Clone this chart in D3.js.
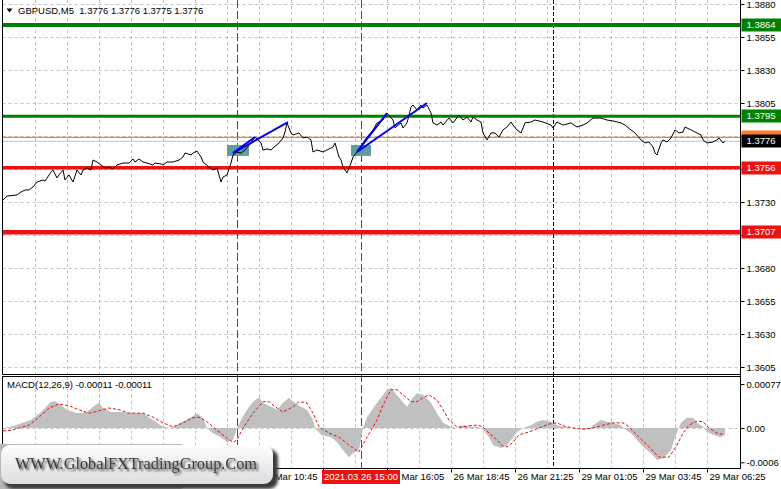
<!DOCTYPE html>
<html><head><meta charset="utf-8">
<script src="https://cdn.jsdelivr.net/npm/d3@7"></script>
<style>html,body{margin:0;padding:0;background:#fff;overflow:hidden}svg{display:block}</style>
</head><body>
<svg id="c" width="781" height="489"></svg>
<script>
// ---------------- DATA ----------------
const symbolTitle = "GBPUSD,M5  1.3776 1.3776 1.3775 1.3776";
const macdTitle = "MACD(12,26,9) -0.00011 -0.00011";

// close prices (bar index, price)
const priceBars = [0,2,7,9,11,13,15,17,20,21,24,25,27,28,30,31,33,35,37,39,40,42,44,45,47,49,51,53,55,57,60,63,65,66,68,70,72,75,76,79,80,82,85,88,90,91,94,95,97,99,100,103,105,107,109,110,112,114,115,117,119,121,124,126,129,130,132,134,135,138,140,141,142,144,145,148,150,152,154,155,157,160,162,165,166,168,169,170,172,174,175,177,179,180,182,185,187,190,192,195,196,199,200,202,204,205,207,209,210,212,214,215,217,219,220,223,225,228,230,232,234,235,237,239,240,242,244,246,248,250,252,254,255,257,259,261,264,266,270,274,275,277,280,284,287,290,292,295,299,302,305,309,311,314,316,319,321,323,325,326,327,329,330,332,334,336,338,340,341,344,346,349,350,352,355,357,358,360,361];
const priceClose = [1.37315,1.37345,1.37353,1.37376,1.37391,1.37391,1.37414,1.37451,1.37467,1.37459,1.37527,1.37542,1.37482,1.37505,1.37542,1.37467,1.37505,1.37451,1.37542,1.37505,1.37542,1.37558,1.37542,1.37618,1.37603,1.37580,1.37558,1.37565,1.37550,1.37580,1.37595,1.37595,1.37626,1.37603,1.37626,1.37603,1.37595,1.37580,1.37595,1.37588,1.37580,1.37603,1.37603,1.37618,1.37641,1.37671,1.37656,1.37671,1.37686,1.37641,1.37603,1.37565,1.37542,1.37558,1.37451,1.37489,1.37505,1.37595,1.37656,1.37679,1.37671,1.37694,1.37747,1.37792,1.37747,1.37694,1.37702,1.37694,1.37709,1.37747,1.37785,1.37830,1.37899,1.37823,1.37808,1.37823,1.37785,1.37792,1.37770,1.37679,1.37694,1.37679,1.37694,1.37717,1.37747,1.37641,1.37618,1.37565,1.37520,1.37595,1.37641,1.37679,1.37709,1.37747,1.37792,1.37846,1.37899,1.37921,1.37974,1.37921,1.37861,1.37899,1.37861,1.37899,1.38020,1.38035,1.37997,1.38035,1.38012,1.38035,1.37974,1.37899,1.37883,1.37906,1.37883,1.37936,1.37899,1.37959,1.37921,1.37944,1.37906,1.37944,1.37921,1.37906,1.37823,1.37770,1.37823,1.37823,1.37792,1.37846,1.37868,1.37906,1.37883,1.37846,1.37823,1.37899,1.37906,1.37921,1.37906,1.37883,1.37861,1.37906,1.37883,1.37899,1.37868,1.37883,1.37899,1.37936,1.37936,1.37921,1.37914,1.37899,1.37883,1.37846,1.37823,1.37770,1.37747,1.37755,1.37717,1.37671,1.37656,1.37747,1.37770,1.37755,1.37785,1.37846,1.37823,1.37830,1.37868,1.37846,1.37830,1.37808,1.37770,1.37747,1.37755,1.37770,1.37785,1.37747,1.37760];

// MACD histogram (bar index, value)
const macdBars = [0,4,14,19,24,26,29,32,37,42,45,48,50,54,59,65,70,75,80,84,89,94,97,100,102,105,109,112,115,117,119,122,125,128,130,134,137,140,143,145,149,152,155,156,159,164,167,170,173,175,178,180,182,187,192,194,199,202,205,207,210,214,217,220,224,227,230,234,237,240,243,245,249,252,255,257,260,264,267,270,274,277,280,285,289,293,295,299,302,305,309,310,314,317,320,324,327,330,334,336,339,342,345,347,350,352,355,359,361];
const macdHist = [0,0.00002,0.00014,0.00028,0.00046,0.00047,0.00040,0.00032,0.00026,0.00028,0.00037,0.00044,0.00035,0.00028,0.00028,0.00026,0.00026,0.00014,0.00002,0,0.00009,0.00019,0.00026,0.00018,0,-0.00009,-0.00016,-0.00025,-0.00021,0,0.00014,0.00032,0.00046,0.00054,0.00044,0.00037,0.00032,0.00044,0.00053,0.00047,0.00037,0.00032,0.00014,0,-0.00012,-0.00016,-0.00025,-0.00039,-0.00051,-0.00044,-0.00039,0,0.00019,0.00044,0.00067,0.00070,0.00049,0.00037,0.00054,0.00061,0.00058,0.00044,0.00026,0.00009,0.00002,0,0.00005,0.00002,0.00002,-0.00002,-0.00016,-0.00030,-0.00035,-0.00030,-0.00016,-0.00007,0,0.00005,0.00011,0.00014,0.00011,0.00005,0.00002,0,-0.00002,-0.00002,0.00005,0.00014,0.00011,0.00009,0.00005,0,-0.00009,-0.00021,-0.00033,-0.00044,-0.00056,-0.00053,-0.00039,-0.00016,0.00009,0.00018,0.00018,0.00009,0.00002,-0.00007,-0.00012,-0.00016,-0.00011];

// MACD signal line (bar index, value)
const signalBars = [0,4,8,13,18,23,28,33,38,43,48,53,58,63,70,75,80,85,90,95,98,102,107,112,115,117,120,125,130,133,137,140,145,148,152,155,158,163,168,173,178,182,187,190,194,197,200,204,207,210,213,217,220,223,227,230,233,237,240,243,247,250,252,255,258,263,268,273,277,280,285,290,295,300,305,310,313,318,323,328,333,337,340,343,347,350,353,357,361];
const signalVals = [-0.00005,-0.00004,0,0.00005,0.00019,0.00035,0.00042,0.00039,0.00032,0.00026,0.00030,0.00035,0.00032,0.00026,0.00026,0.00019,0.00009,0.00002,0.00009,0.00018,0.00019,0.00011,-0.00004,-0.00018,-0.00025,-0.00021,0,0.00026,0.00046,0.00046,0.00035,0.00028,0.00037,0.00046,0.00044,0.00026,0.00002,-0.00009,-0.00016,-0.00030,-0.00042,-0.00016,0.00014,0.00040,0.00067,0.00067,0.00058,0.00046,0.00046,0.00053,0.00058,0.00049,0.00032,0.00014,0.00002,0.00002,0.00004,0.00005,0.00002,-0.00009,-0.00021,-0.00032,-0.00033,-0.00025,-0.00012,-0.00007,0,0.00007,0.00009,0.00004,0,-0.00002,0,0.00005,0.00009,0.00009,0.00002,-0.00016,-0.00033,-0.00051,-0.00051,-0.00030,-0.00009,0.00005,0.00012,0.00011,0,-0.00009,-0.00012];

// price axis (grid levels; labels hidden behind the level boxes are left blank)
const priceTicks = [1.3880,1.3855,1.3830,1.3805,1.3780,1.3755,1.3730,1.3705,1.3680,1.3655,1.3630,1.3605];
const priceTickLabels = ["1.3880","1.3855","1.3830","1.3805","","","1.3730","","1.3680","1.3655","1.3630","1.3605"];
const macdTicks = [0.00077,0,-0.0006];
const macdTickLabels = ["0.00077","0.00","-0.0006"];

// horizontal levels
const levelPrices = [1.3864,1.3795,1.3756,1.3707];
const levelLabels = ["1.3864","1.3795","1.3756","1.3707"];
const orangePrice = 1.3779, orangeLabel = "1.3779";
const bidPrice = 1.3776, bidLabel = "1.3776";

// time axis (labels hidden under the watermark / marker box are left blank)
const timeTickBars = [0,32,64,96,128,160,192,224,256,288,320,352];
const timeTickLabels = ["","","","","26 Mar 10:45","","26 Mar 16:05","26 Mar 18:45","26 Mar 21:25","29 Mar 01:05","29 Mar 03:45","29 Mar 06:25"];
const markerBars = [117,179];
const markerTimeBar = 179, markerTimeLabel = "2021.03.26 15:00";
const separatorBars = [275];

// drawn objects
const zoneStart = [112,174], zoneEnd = [123,184];
const zoneTop = 1.37732, zoneBottom = 1.37649;
const trendStartBar = [115,115,177,177];
const trendStartPrice = [1.37671,1.37671,1.37679,1.37679];
const trendEndBar = [126,142.5,192,212];
const trendEndPrice = [1.37792,1.37906,1.37974,1.38050];

const watermark = "WWW.GlobalFXTradingGroup.Com";

// ---------------- LAYOUT ----------------
const W = 781, H = 489;
const L = 2.5, R = 740.5, mainTop = 0, mainBot = 374.5, mTop = 376.5, mBot = 468.5;
const F = "'Liberation Sans', Arial, sans-serif";
const FS = 9.5;
const levelColors = ["#008000","#008000","#ee1111","#ee1111"];
const levelWidths = [4,3,3.5,4.5];

const svg = d3.select("#c");
const x = d3.scaleLinear().domain([0,368.5]).range([3,740]);
const y = d3.scaleLinear().domain([1.3605,1.3880]).range([367,4]);
const ym = d3.scaleLinear().domain([-0.0006,0.00077]).range([462.3,384]);

const defs = svg.append("defs");
defs.append("clipPath").attr("id","mainClip").append("rect").attr("x",L).attr("y",mainTop).attr("width",R-L).attr("height",mainBot-mainTop);
defs.append("clipPath").attr("id","macdClip").append("rect").attr("x",L).attr("y",mTop).attr("width",R-L).attr("height",mBot-mTop);

const gridColor = "#c0c0c0";
const vg = d3.range(16,368,16);
[[mainTop,mainBot],[mTop,mBot]].forEach(([a,b])=>{
  svg.append("g").selectAll("line").data(vg).join("line")
    .attr("x1",d=>Math.round(x(d))+0.5).attr("x2",d=>Math.round(x(d))+0.5)
    .attr("y1",a).attr("y2",b).attr("stroke",gridColor).attr("stroke-dasharray","3,3");
});
svg.append("g").selectAll("line").data(priceTicks).join("line")
  .attr("x1",L).attr("x2",R).attr("y1",d=>Math.round(y(d))+0.5).attr("y2",d=>Math.round(y(d))+0.5)
  .attr("stroke",gridColor).attr("stroke-dasharray","3,3");
svg.append("line").attr("x1",L).attr("x2",R).attr("y1",Math.round(ym(0))+0.5).attr("y2",Math.round(ym(0))+0.5)
  .attr("stroke",gridColor).attr("stroke-dasharray","3,3");

const vlines = svg.append("g");
separatorBars.forEach(b=>{
  vlines.append("line").attr("x1",Math.round(x(b))+0.5).attr("x2",Math.round(x(b))+0.5).attr("y1",mainTop).attr("y2",mBot)
    .attr("stroke","#000").attr("stroke-dasharray","4,2");
});
markerBars.forEach(b=>{
  vlines.append("line").attr("x1",Math.round(x(b))+0.5).attr("x2",Math.round(x(b))+0.5).attr("y1",mainTop).attr("y2",mBot)
    .attr("stroke","#e01010").attr("stroke-dasharray","8,3");
});

const main = svg.append("g").attr("clip-path","url(#mainClip)");
main.selectAll("rect.zone").data(zoneStart).join("rect").attr("class","zone")
  .attr("x",(d,i)=>x(d)).attr("width",(d,i)=>x(zoneEnd[i])-x(d))
  .attr("y",y(zoneTop)).attr("height",y(zoneBottom)-y(zoneTop)).attr("fill","#5f9ea0");

main.append("line").attr("x1",L).attr("x2",R).attr("y1",y(orangePrice)).attr("y2",y(orangePrice)).attr("stroke","#ff7a2a").attr("stroke-width",1.2);
main.append("line").attr("x1",L).attr("x2",R).attr("y1",y(bidPrice)).attr("y2",y(bidPrice)).attr("stroke","#c0c0c0").attr("stroke-width",1);
main.selectAll("line.level").data(levelPrices).join("line").attr("class","level")
  .attr("x1",L).attr("x2",R).attr("y1",d=>y(d)).attr("y2",d=>y(d))
  .attr("stroke",(d,i)=>levelColors[i]).attr("stroke-width",(d,i)=>levelWidths[i]);

const pdata = priceBars.map((b,i)=>[b,priceClose[i]]);
main.append("path").datum(pdata)
  .attr("d",d3.line().x(d=>x(d[0])).y(d=>y(d[1])))
  .attr("fill","none").attr("stroke","#000").attr("stroke-width",1);

main.selectAll("line.trend").data(trendStartBar).join("line").attr("class","trend")
  .attr("x1",d=>x(d)).attr("y1",(d,i)=>y(trendStartPrice[i]))
  .attr("x2",(d,i)=>x(trendEndBar[i])).attr("y2",(d,i)=>y(trendEndPrice[i]))
  .attr("stroke","#0000ee").attr("stroke-width",2);

const mg = svg.append("g").attr("clip-path","url(#macdClip)");
const hdata = macdBars.map((b,i)=>[b,macdHist[i]]);
mg.append("path").datum(hdata)
  .attr("d",d3.area().x(d=>x(d[0])).y0(ym(0)).y1(d=>ym(d[1])))
  .attr("fill","#c0c0c0");
const sdata = signalBars.map((b,i)=>[b,signalVals[i]]);
mg.append("path").datum(sdata)
  .attr("d",d3.line().x(d=>x(d[0])).y(d=>ym(d[1])))
  .attr("fill","none").attr("stroke","#dd1111").attr("stroke-width",1).attr("stroke-dasharray","3,2");

svg.append("line").attr("x1",L).attr("x2",L).attr("y1",0).attr("y2",mainBot).attr("stroke","#000");
svg.append("line").attr("x1",L).attr("x2",R).attr("y1",mainBot).attr("y2",mainBot).attr("stroke","#000");
svg.append("rect").attr("x",L).attr("y",mTop).attr("width",R-L).attr("height",mBot-mTop).attr("fill","none").attr("stroke","#000");
svg.append("line").attr("x1",R).attr("x2",R).attr("y1",0).attr("y2",mBot).attr("stroke","#000");

const ya = d3.axisRight(y).tickValues(priceTicks).tickFormat((d,i)=>priceTickLabels[i]).tickSize(4).tickPadding(2);
const yag = svg.append("g").attr("transform",`translate(${R},0)`).call(ya);
yag.select(".domain").remove();
yag.selectAll("text").attr("font-family",F).attr("font-size",FS).attr("fill","#000");
yag.selectAll("line").attr("stroke","#000");

const yma = d3.axisRight(ym).tickValues(macdTicks).tickFormat((d,i)=>macdTickLabels[i]).tickSize(4).tickPadding(2);
const ymag = svg.append("g").attr("transform",`translate(${R},0)`).call(yma);
ymag.select(".domain").remove();
ymag.selectAll("text").attr("font-family",F).attr("font-size",FS).attr("fill","#000");
ymag.selectAll("line").attr("stroke","#000");

function priceBox(p,label,fill,showText){
  const cy = Math.round(y(p));
  svg.append("rect").attr("x",R+1).attr("y",cy-6.5).attr("width",W-R).attr("height",13).attr("fill",fill);
  if(showText) svg.append("text").attr("x",R+6).attr("y",cy).attr("dy","0.35em").attr("font-family",F).attr("font-size",FS).attr("fill","#fff").text(label);
}
priceBox(orangePrice,orangeLabel,"#ff7a2a",false);
priceBox(bidPrice,bidLabel,"#000",true);
levelPrices.forEach((p,i)=>priceBox(p,levelLabels[i],levelColors[i],true));

const xa = d3.axisBottom(x).tickValues(timeTickBars).tickFormat((d,i)=>timeTickLabels[i]).tickSize(4).tickPadding(1);
const xag = svg.append("g").attr("transform",`translate(0,${mBot})`).call(xa);
xag.select(".domain").remove();
xag.selectAll("line").attr("stroke","#000");
xag.selectAll("text").attr("font-family",F).attr("font-size",FS).attr("fill","#000").attr("text-anchor","start").attr("dx","2");
// keep visible part only for label partly covered by marker box
xag.selectAll("text").filter((d,i)=>timeTickLabels[i]==="26 Mar 16:05").text("Mar 16:05").attr("dx","14");
{
  const cx = x(markerTimeBar);
  svg.append("rect").attr("x",cx-39).attr("y",470).attr("width",78).attr("height",14).attr("fill","#ee1111");
  svg.append("text").attr("x",cx).attr("y",477).attr("dy","0.35em").attr("text-anchor","middle")
    .attr("font-family",F).attr("font-size",FS).attr("fill","#fff").text(markerTimeLabel);
}

svg.append("path").attr("d","M6.5,8.5 L12.5,8.5 L9.5,12.5 Z").attr("fill","#000");
svg.append("text").attr("x",18).attr("y",11).attr("dy","0.35em").attr("font-family",F).attr("font-size",FS).attr("fill","#000").attr("xml:space","preserve").text(symbolTitle);
svg.append("text").attr("x",7).attr("y",385).attr("dy","0.35em").attr("font-family",F).attr("font-size",FS).attr("fill","#000").text(macdTitle);

const grad = defs.append("linearGradient").attr("id","wmg").attr("x1",0).attr("y1",0).attr("x2",0).attr("y2",1);
grad.append("stop").attr("offset","0%").attr("stop-color","#ffffff");
grad.append("stop").attr("offset","100%").attr("stop-color","#dcdde0");
const blur = defs.append("filter").attr("id","blur").attr("x","-20%").attr("y","-20%").attr("width","140%").attr("height","140%");
blur.append("feGaussianBlur").attr("stdDeviation",1.6);
const ts = defs.append("filter").attr("id","tshadow").attr("x","-10%").attr("y","-30%").attr("width","120%").attr("height","160%");
ts.append("feGaussianBlur").attr("in","SourceAlpha").attr("stdDeviation",1.2).attr("result","b");
ts.append("feOffset").attr("in","b").attr("dx",1.5).attr("dy",1.5).attr("result","o");
ts.append("feFlood").attr("flood-color","#444").attr("result","c");
ts.append("feComposite").attr("in","c").attr("in2","o").attr("operator","in").attr("result","s");
const tm = ts.append("feMerge"); tm.append("feMergeNode").attr("in","s"); tm.append("feMergeNode").attr("in","SourceGraphic");

svg.append("rect").attr("x",0).attr("y",444).attr("width",182).attr("height",45).attr("fill","#b8b8b8");
svg.append("rect").attr("x",4).attr("y",449).attr("width",274).attr("height",40).attr("rx",9).attr("fill","#3a3a3a").attr("filter","url(#blur)");
svg.append("rect").attr("x",1).attr("y",445).attr("width",272).attr("height",39).attr("rx",9).attr("fill","url(#wmg)");
svg.append("text").attr("x",15).attr("y",469).attr("font-family","'Liberation Serif','Times New Roman',serif")
  .attr("font-size",17).attr("fill","#3a3a3a").attr("textLength",242).attr("lengthAdjust","spacingAndGlyphs")
  .attr("filter","url(#tshadow)").text(watermark);
</script>
</body></html>
